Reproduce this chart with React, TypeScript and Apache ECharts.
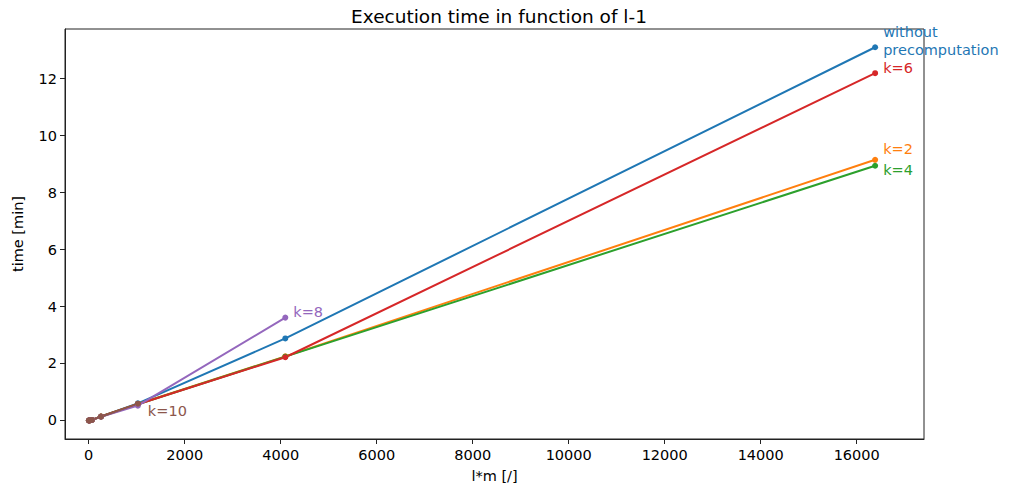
import React, { useEffect, useRef } from "react";
import * as echarts from "echarts";

const xValues = [4, 16, 64, 256, 1024, 4096, 16384];
const withoutPre = [0, 0.003, 0.02, 0.14, 0.6, 2.88, 13.1];
const k2 = [0, 0.003, 0.02, 0.14, 0.58, 2.25, 9.15];
const k4 = [0, 0.003, 0.02, 0.14, 0.57, 2.24, 8.94];
const k6 = [0, 0.003, 0.02, 0.14, 0.57, 2.22, 12.19];
const k8 = [0, 0.003, 0.02, 0.13, 0.52, 3.61];
const k10 = [0, 0.003, 0.02, 0.13, 0.59];

const xTicks = [0, 2000, 4000, 6000, 8000, 10000, 12000, 14000, 16000];
const yTicks = [0, 2, 4, 6, 8, 10, 12];

const FONT = "DejaVu Sans";

function mk(name: string, ys: number[], color: string, offset: number[]) {
  return {
    type: "line",
    name,
    data: ys.map((y, i) => [xValues[i], y]),
    symbol: "circle",
    symbolSize: 6,
    showSymbol: true,
    lineStyle: { color, width: 2 },
    itemStyle: { color },
    endLabel: {
      show: true,
      formatter: name,
      color,
      fontFamily: FONT,
      fontSize: 14.5,
      lineHeight: 18,
      align: "left",
      verticalAlign: "middle",
      distance: 0,
      offset,
    },
    emphasis: { disabled: true },
  };
}

export default function App() {
  const ref = useRef<HTMLDivElement>(null);
  useEffect(() => {
    if (!ref.current) return;
    const chart = echarts.init(ref.current, undefined, { renderer: "svg" });
    chart.setOption({
      animation: false,
      backgroundColor: "#ffffff",
      title: {
        text: "Execution time in function of l-1",
        left: 494,
        textAlign: "center",
        top: 2,
        textStyle: { fontFamily: FONT, fontSize: 18.5, fontWeight: "normal", color: "#000" },
      },
      grid: {
        left: 65,
        right: 93,
        top: 29,
        bottom: 56,
        show: true,
        borderColor: "#222",
        borderWidth: 1,
        containLabel: false,
      },
      xAxis: {
        type: "value",
        min: -494,
        max: 17402,
        name: "l*m [/]",
        nameLocation: "middle",
        nameGap: 29,
        nameTextStyle: { fontFamily: FONT, fontSize: 14.5, color: "#000" },
        splitLine: { show: false },
        axisLine: { show: true, onZero: false, lineStyle: { color: "#222", width: 1 } },
        axisTick: { show: true, customValues: xTicks, length: 5, lineStyle: { color: "#222" } },
        axisLabel: {
          customValues: xTicks,
          formatter: (v: number) => String(v),
          fontFamily: FONT,
          fontSize: 14.5,
          color: "#000",
          margin: 8,
        },
      },
      yAxis: {
        type: "value",
        min: -0.65,
        max: 13.74,
        name: "time [min]",
        nameLocation: "middle",
        nameGap: 40,
        nameTextStyle: { fontFamily: FONT, fontSize: 14.5, color: "#000" },
        splitLine: { show: false },
        axisLine: { show: true, onZero: false, lineStyle: { color: "#222", width: 1 } },
        axisTick: { show: true, customValues: yTicks, length: 5, lineStyle: { color: "#222" } },
        axisLabel: {
          customValues: yTicks,
          formatter: (v: number) => String(v),
          fontFamily: FONT,
          fontSize: 14.5,
          color: "#000",
          margin: 8,
        },
      },
      series: [
        mk("without\nprecomputation", withoutPre, "#1f77b4", [8, -6]),
        mk("k=2", k2, "#ff7f0e", [8, -11]),
        mk("k=4", k4, "#2ca02c", [8, 4]),
        mk("k=6", k6, "#d62728", [8, -5]),
        mk("k=8", k8, "#9467bd", [8, -6]),
        mk("k=10", k10, "#8c564b", [10, 7]),
      ],
    });
    return () => chart.dispose();
  }, []);
  return <div ref={ref} style={{ width: 1017, height: 495, margin: -8 }} />;
}
